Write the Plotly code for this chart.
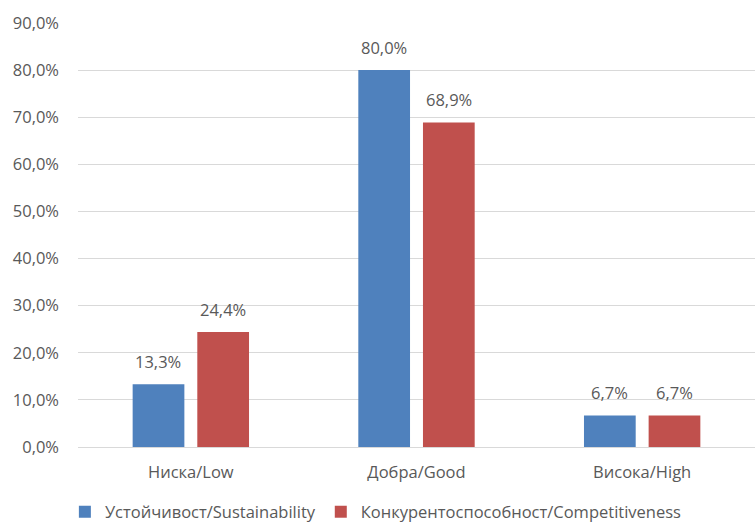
import plotly.graph_objects as go

categories = ["Ниска/Low", "Добра/Good", "Висока/High"]
sustainability = [13.3, 80.0, 6.7]
competitiveness = [24.4, 68.9, 6.7]
series_names = ["Устойчивост/Sustainability", "Конкурентоспособност/Competitiveness"]
colors = ["#4F81BD", "#C0504D"]

def fmt(v):
    return f"{v:.1f}".replace(".", ",") + "%"

font_family = "Open Sans, Noto Sans, sans-serif"
gray = "#595959"
FS = 16.5

fig = go.Figure()
for name, vals, col in zip(series_names, [sustainability, competitiveness], colors):
    fig.add_trace(go.Bar(x=categories, y=vals, name=name, marker_color=col,
                         marker_line_width=0))

# data labels above bars
offsets = [-32.5, 32.5]
for vals, dx in zip([sustainability, competitiveness], offsets):
    for c, v in zip(categories, vals):
        fig.add_annotation(x=c, y=v, xref="x", yref="y", text=fmt(v),
                           showarrow=False, xshift=dx, yshift=9,
                           yanchor="bottom",
                           font=dict(size=FS, color=gray, family=font_family))

H = 527
plot_top = 23
axis_bottom = 447
fig.update_layout(
    width=755, height=H,
    margin=dict(l=78, r=0, t=plot_top, b=0, autoexpand=False),
    paper_bgcolor="white", plot_bgcolor="white",
    separators=",.",
    barmode="group", bargap=0.427, bargroupgap=0.2,
    font=dict(family=font_family, size=FS, color=gray),
    showlegend=True,
    legend=dict(orientation="h", x=0.44, xanchor="center",
                y=(H - 512) / (H - plot_top), yanchor="middle",
                font=dict(size=FS, color=gray), traceorder="normal"),
    xaxis=dict(showgrid=False, showline=True, linecolor="#D9D9D9", linewidth=1,
               automargin=False,
               ticks="", tickfont=dict(size=FS, color=gray), ticklabelstandoff=10),
    yaxis=dict(range=[0, 90], dtick=10, tickformat=".1f", ticksuffix="%",
               domain=[(H - axis_bottom) / (H - plot_top), 1], automargin=False,
               showgrid=True, gridcolor="#D9D9D9", gridwidth=1, zeroline=False,
               showline=False, ticks="", tickfont=dict(size=FS, color=gray),
               ticklabelstandoff=18),
)
fig.write_html("out.html")
